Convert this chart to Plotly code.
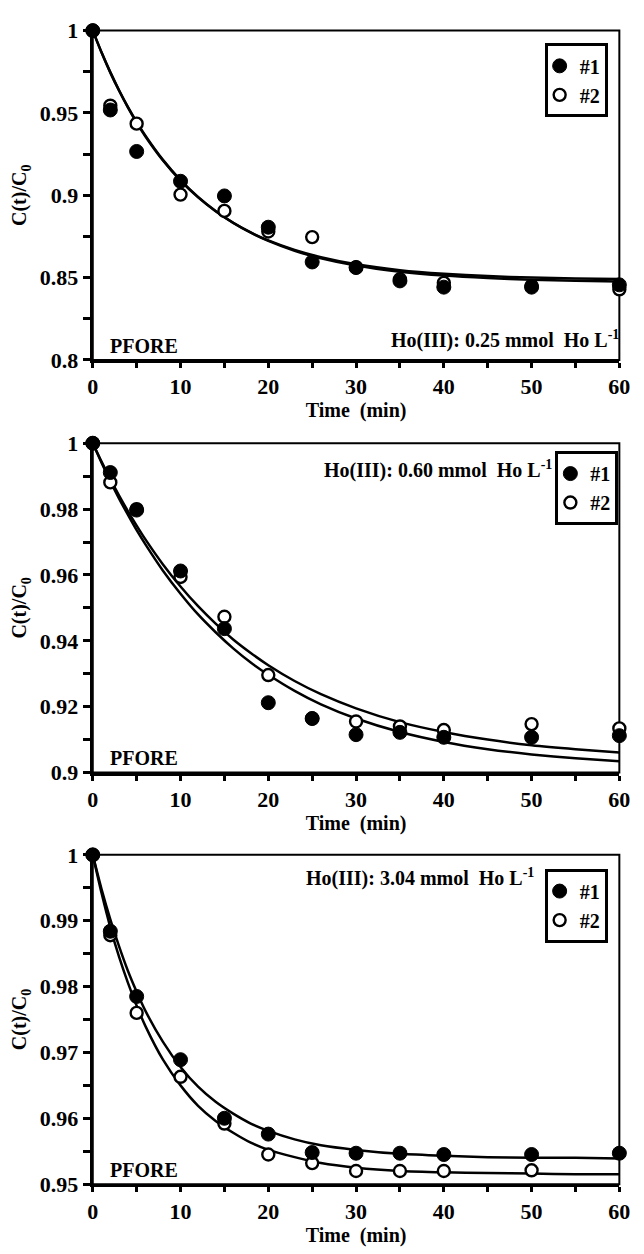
import plotly.graph_objects as go
from plotly.subplots import make_subplots

# ---------------- data ----------------
time_pts = [0, 2, 5, 10, 15, 20, 25, 30, 35, 40, 50, 60]

# Panel 1: Ho(III) 0.25 mmol/L
p1_s1 = [1.0, 0.9518, 0.9266, 0.9085, 0.8996, 0.8806, 0.8595, 0.8562, 0.8480, 0.8442, 0.8442, 0.8456]
p1_s2 = [1.0, 0.9544, 0.9435, 0.9004, 0.8905, 0.8780, 0.8746, 0.8560, 0.8490, 0.8468, 0.8450, 0.8429]

# Panel 2: Ho(III) 0.60 mmol/L
p2_s1 = [1.0, 0.9911, 0.9797, 0.9612, 0.9437, 0.9212, 0.9164, 0.9115, 0.9122, 0.9107, 0.9107, 0.9112]
p2_s2 = [1.0, 0.9881, 0.9800, 0.9594, 0.9473, 0.9296, 0.9164, 0.9155, 0.9140, 0.9129, 0.9147, 0.9134]

# Panel 3: Ho(III) 3.04 mmol/L
p3_t2 = [0, 2, 5, 10, 15, 20, 25, 30, 35, 40, 50]
p3_s1 = [1.0, 0.9884, 0.9785, 0.9689, 0.9600, 0.9576, 0.9548, 0.9547, 0.9547, 0.9545, 0.9545, 0.9547]
p3_s2 = [1.0, 0.9878, 0.9760, 0.9663, 0.9592, 0.9545, 0.9532, 0.9520, 0.9520, 0.9520, 0.9521]

# PFORE fitted curves
curve_t = [0, 1, 2, 3, 4, 5, 6, 8, 10, 12, 14, 16, 18, 20, 23, 26, 30, 35, 40, 45, 50, 55, 60]
p1_fit1 = [1.0, 0.9867, 0.9745, 0.9635, 0.9534, 0.9441, 0.9357, 0.9211, 0.9089, 0.8987, 0.8903,
           0.8833, 0.8774, 0.8726, 0.8668, 0.8624, 0.8581, 0.8545, 0.8523, 0.8509, 0.8500, 0.8495, 0.8491]
p1_fit2 = [1.0, 0.9868, 0.9748, 0.9638, 0.9537, 0.9446, 0.9362, 0.9215, 0.9092, 0.8990, 0.8904,
           0.8832, 0.8773, 0.8723, 0.8663, 0.8617, 0.8573, 0.8536, 0.8512, 0.8497, 0.8487, 0.8481, 0.8477]
p2_fit1 = [1.0, 0.9944, 0.9891, 0.9841, 0.9794, 0.9750, 0.9708, 0.9632, 0.9565, 0.9505, 0.9452,
           0.9404, 0.9363, 0.9326, 0.9278, 0.9238, 0.9195, 0.9153, 0.9123, 0.9100, 0.9083, 0.9071, 0.9061]
p2_fit2 = [1.0, 0.9941, 0.9885, 0.9832, 0.9783, 0.9736, 0.9693, 0.9613, 0.9543, 0.9480, 0.9426,
           0.9377, 0.9334, 0.9297, 0.9248, 0.9207, 0.9164, 0.9123, 0.9093, 0.9071, 0.9055, 0.9043, 0.9034]
p3_fit1 = [1.0, 0.9948, 0.9902, 0.9861, 0.9824, 0.9792, 0.9763, 0.9716, 0.9678, 0.9648, 0.9625,
           0.9607, 0.9592, 0.9581, 0.9568, 0.9559, 0.9552, 0.9546, 0.9543, 0.9541, 0.9540, 0.9540, 0.9539]
p3_fit2 = [1.0, 0.9942, 0.9890, 0.9845, 0.9806, 0.9771, 0.9740, 0.9689, 0.9650, 0.9619, 0.9596,
           0.9578, 0.9563, 0.9552, 0.9541, 0.9532, 0.9525, 0.9520, 0.9518, 0.9517, 0.9516, 0.9515, 0.9515]

series_names = ["#1", "#2"]
x_ticks = [0, 10, 20, 30, 40, 50, 60]
y1_ticks = [0.8, 0.85, 0.9, 0.95, 1.0]
y1_text = ["0.8", "0.85", "0.9", "0.95", "1"]
y2_ticks = [0.9, 0.92, 0.94, 0.96, 0.98, 1.0]
y2_text = ["0.9", "0.92", "0.94", "0.96", "0.98", "1"]
y3_ticks = [0.95, 0.96, 0.97, 0.98, 0.99, 1.0]
y3_text = ["0.95", "0.96", "0.97", "0.98", "0.99", "1"]
conc_labels = ["Ho(III): 0.25 mmol  Ho L<sup>-1</sup>",
               "Ho(III): 0.60 mmol  Ho L<sup>-1</sup>",
               "Ho(III): 3.04 mmol  Ho L<sup>-1</sup>"]

# ---------------- figure ----------------
W, H = 644, 1254
FONT = "Liberation Serif"
TICKF = dict(family=FONT, size=22, color="black", weight="bold")
TITLEF = dict(family=FONT, size=20, color="black", weight="bold")
ANNF = dict(family=FONT, size=20, color="black", weight="bold")
fig = make_subplots(rows=3, cols=1)

panels = [
    dict(t1=time_pts, s1=p1_s1, t2=time_pts, s2=p1_s2, f1=p1_fit1, f2=p1_fit2,
         yr=[0.8, 1.0], tv=y1_ticks, tt=y1_text, minor=0.025, top=19, bot=355,
         leg=dict(x=618, y=32)),
    dict(t1=time_pts, s1=p2_s1, t2=time_pts, s2=p2_s2, f1=p2_fit1, f2=p2_fit2,
         yr=[0.9, 1.0], tv=y2_ticks, tt=y2_text, minor=0.01, top=440, bot=776,
         leg=dict(x=629, y=448)),
    dict(t1=time_pts, s1=p3_s1, t2=p3_t2, s2=p3_s2, f1=p3_fit1, f2=p3_fit2,
         yr=[0.95, 1.0], tv=y3_ticks, tt=y3_text, minor=0.005, top=860, bot=1196,
         leg=dict(x=618, y=874)),
]
XL, XR = 90, 630

for i, p in enumerate(panels):
    r = i + 1
    lg = "legend" if i == 0 else f"legend{r}"
    for f in (p["f1"], p["f2"]):
        fig.add_trace(go.Scatter(x=curve_t, y=f, mode="lines",
                                 line=dict(color="black", width=2.5, shape="spline", smoothing=0.6),
                                 showlegend=False, hoverinfo="skip", cliponaxis=False), row=r, col=1)
    fig.add_trace(go.Scatter(x=p["t2"], y=p["s2"], mode="markers", name=series_names[1], legend=lg,
                             legendrank=2, legendgroup=f"b{r}",
                             marker=dict(symbol="circle", size=12, color="white", line=dict(color="black", width=2.4)),
                             cliponaxis=False), row=r, col=1)
    fig.add_trace(go.Scatter(x=p["t1"], y=p["s1"], mode="markers", name=series_names[0], legend=lg,
                             legendrank=1, legendgroup=f"a{r}",
                             marker=dict(symbol="circle", size=14, color="black", line=dict(color="black", width=1)),
                             cliponaxis=False), row=r, col=1)

    ydom = [1 - p["bot"] / H, 1 - p["top"] / H]
    fig.update_xaxes(row=r, col=1, domain=[XL / W, XR / W], range=[0, 60], tickvals=x_ticks,
                     ticks="outside", ticklen=5, tickwidth=2.5, tickcolor="black",
                     minor=dict(dtick=5, tick0=0, ticks="outside", ticklen=5, tickwidth=2.5, tickcolor="black"),
                     showline=True, linewidth=3, linecolor="black", showgrid=False, zeroline=False,
                     tickfont=TICKF,
                     title=dict(text="Time  (min)", standoff=0, font=TITLEF))
    fig.update_yaxes(row=r, col=1, domain=ydom, range=p["yr"], tickvals=p["tv"], ticktext=p["tt"],
                     ticks="outside", ticklen=7, tickwidth=3, tickcolor="black",
                     minor=dict(dtick=p["minor"], tick0=p["yr"][0], ticks="outside", ticklen=7, tickwidth=3,
                                tickcolor="black"),
                     showline=True, linewidth=3, linecolor="black", showgrid=False, zeroline=False,
                     tickfont=TICKF,
                     title=dict(text="C(t)/C<sub>0</sub>", standoff=8, font=TITLEF))
    xs = "x" if i == 0 else f"x{r}"
    ys = "y" if i == 0 else f"y{r}"
    # frame
    fig.add_shape(type="rect", xref=f"{xs} domain", yref=f"{ys} domain", x0=0, x1=1, y0=0, y1=1,
                  line=dict(color="black", width=2), layer="below")
    # PFORE label
    fig.add_annotation(xref=f"{xs} domain", yref=f"{ys} domain", x=0.028, y=0.043, xanchor="left",
                       yanchor="middle", text="PFORE", showarrow=False, font=ANNF)
    # legend
    leg = dict(x=p["leg"]["x"] / W, y=1 - p["leg"]["y"] / H, xanchor="right", yanchor="top",
               bgcolor="white", bordercolor="black", borderwidth=3, itemwidth=30, indentation=-8,
               tracegroupgap=12, traceorder="normal", font=dict(family=FONT, size=20, color="black", weight="bold"))
    fig.update_layout({lg: leg})

# concentration labels
fig.add_annotation(xref="x domain", yref="y domain", x=1.004, y=0.062, xanchor="right", yanchor="middle",
                   text=conc_labels[0], showarrow=False, font=ANNF)
fig.add_annotation(xref="x2 domain", yref="y2 domain", x=0.876, y=0.92, xanchor="right", yanchor="middle",
                   text=conc_labels[1], showarrow=False, font=ANNF)
fig.add_annotation(xref="x3 domain", yref="y3 domain", x=0.842, y=0.932, xanchor="right", yanchor="middle",
                   text=conc_labels[2], showarrow=False, font=ANNF)

fig.update_layout(width=W, height=H, margin=dict(l=0, r=0, t=0, b=0), autosize=False,
                  plot_bgcolor="white", paper_bgcolor="white", showlegend=True,
                  font=dict(family=FONT, color="black", size=20))

fig.write_html("out.html")
